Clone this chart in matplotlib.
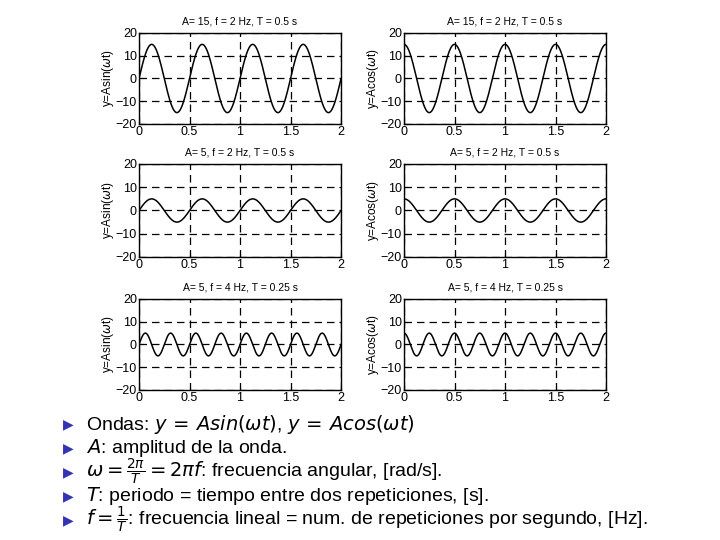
import numpy as np
import matplotlib
matplotlib.use("Agg")
import matplotlib.pyplot as plt

# Wave parameters per row (amplitude, frequency Hz, period s)
amplitudes = [15, 5, 5]
frequencies = [2, 2, 4]
periods = ["0.5", "0.5", "0.25"]
funcs = ["sin", "cos"]
ylabels = [r"y=Asin($\omega$t)", r"y=Acos($\omega$t)"]
xticks = [0, 0.5, 1, 1.5, 2]
xticklabels = ["0", "0.5", "1", "1.5", "2"]
yticks = [-20, -10, 0, 10, 20]

bullets = [
    r"Ondas: $y\,=\,Asin(\omega t)$, $y\,=\,Acos(\omega t)$",
    r"$A$: amplitud de la onda.",
    r"$\omega = \frac{2\pi}{T} = 2\pi f$: frecuencia angular, [rad/s].",
    r"$T$: periodo = tiempo entre dos repeticiones, [s].",
    r"$f = \frac{1}{T}$: frecuencia lineal = num. de repeticiones por segundo, [Hz].",
]

plt.rcParams['font.family'] = ['Liberation Sans', 'DejaVu Sans']
plt.rcParams['mathtext.fontset'] = 'dejavusans'

fig = plt.figure(figsize=(7.2, 5.4), dpi=100)
fig.patch.set_facecolor('white')

rows_y = [(0.7704, 0.1685), (0.5241, 0.1722), (0.2778, 0.1685)]
cols_x = [0.1931, 0.5611]
w = 0.2806

t = np.linspace(0, 2, 1000)
for r in range(3):
    for c in range(2):
        ax = fig.add_axes([cols_x[c], rows_y[r][0], w, rows_y[r][1]])
        A = amplitudes[r]
        f = frequencies[r]
        om = 2 * np.pi * f
        y = A * np.sin(om * t) if funcs[c] == "sin" else A * np.cos(om * t)
        ax.plot(t, y, color='black', lw=1.1)
        ax.set_xlim(0, 2)
        ax.set_ylim(-20, 20)
        ax.set_xticks(xticks)
        ax.set_xticklabels(xticklabels)
        ax.set_yticks(yticks)
        ax.tick_params(direction='in', length=3, labelsize=9, pad=1.5, colors='black')
        ax.grid(True, color='black', linestyle=(0, (6, 4)), lw=0.9)
        for s in ax.spines.values():
            s.set_linewidth(1.0)
        ax.set_title(f"A= {A}, f = {f} Hz, T = {periods[r]} s", fontsize=7.5, pad=6)
        ax.set_ylabel(ylabels[c], fontsize=8.5, labelpad=0)

y0 = 424
for i, b in enumerate(bullets):
    yy = 1 - (y0 + i * 24) / 540
    fig.text(0.0875, yy, "\u25B6", color='#3333b3', fontsize=10, va='center',
             family='DejaVu Sans')
    fig.text(0.1195, yy, b, fontsize=14, va='center')

fig.savefig("out.png", dpi=100)
